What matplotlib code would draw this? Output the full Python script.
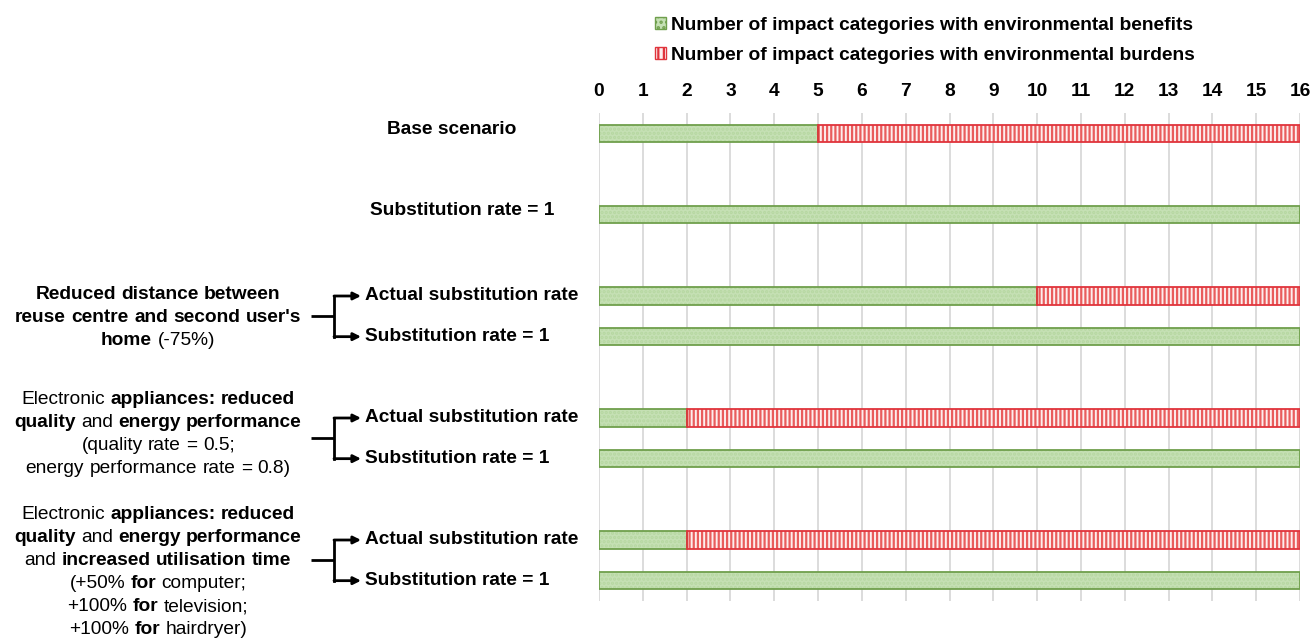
import numpy as np
import matplotlib.pyplot as plt
import matplotlib.transforms as mtransforms
from matplotlib.patches import Patch

plt.rcParams['font.family'] = ['Liberation Sans', 'DejaVu Sans']
plt.rcParams['hatch.linewidth'] = 1.6

# data
row_pos = [0, 2, 4, 5, 7, 8, 10, 11]
row_labels = ['Base scenario', 'Substitution rate = 1',
              'Actual substitution rate', 'Substitution rate = 1',
              'Actual substitution rate', 'Substitution rate = 1',
              'Actual substitution rate', 'Substitution rate = 1']
benefits = [5, 16, 10, 16, 2, 16, 2, 16]
burdens = [11, 0, 6, 0, 14, 0, 14, 0]
legend_labels = ['Number of impact categories with environmental benefits',
                 'Number of impact categories with environmental burdens']

# group labels: list of lines, each line a list of (word, bold)
groups = [
    dict(rows=(4, 5), cy=4.54, lines=[
        [('Reduced', 1), ('distance', 1), ('between', 1)],
        [('reuse', 1), ('centre', 1), ('and', 1), ('second', 1), ("user's", 1)],
        [('home', 1), ('(-75%)', 0)],
    ]),
    dict(rows=(7, 8), cy=7.39, lines=[
        [('Electronic', 0), ('appliances:', 1), ('reduced', 1)],
        [('quality', 1), ('and', 0), ('energy', 1), ('performance', 1)],
        [('(quality', 0), ('rate', 0), ('=', 0), ('0.5;', 0)],
        [('energy', 0), ('performance', 0), ('rate', 0), ('=', 0), ('0.8)', 0)],
    ]),
    dict(rows=(10, 11), cy=10.79, lines=[
        [('Electronic', 0), ('appliances:', 1), ('reduced', 1)],
        [('quality', 1), ('and', 0), ('energy', 1), ('performance', 1)],
        [('and', 0), ('increased', 1), ('utilisation', 1), ('time', 1)],
        [('(+50%', 0), ('for', 1), ('computer;', 0)],
        [('+100%', 0), ('for', 1), ('television;', 0)],
        [('+100%', 0), ('for', 1), ('hairdryer)', 0)],
    ]),
]

FS = 13.8
green_face = '#c5e0b4'
green_edge = '#6f9f4c'
red_face = '#fdeeee'
red_hatch = '#e95c5c'
red_edge = '#e0343c'

fig = plt.figure(figsize=(13.12, 6.38), dpi=100)
ax = fig.add_axes([599 / 1312, 1 - 601 / 638, 701 / 1312, 488 / 638])

h = 0.42
ax.barh(row_pos, benefits, height=h, color=green_face, edgecolor='#b6d7a1',
        hatch='....', linewidth=0, zorder=2)
ax.barh(row_pos, benefits, height=h, color='none', edgecolor=green_edge,
        linewidth=1.3, zorder=3)
ax.barh(row_pos, burdens, left=benefits, height=h, color=red_face,
        edgecolor=red_hatch, hatch='||||', linewidth=0, zorder=2)
for y, b, r in zip(row_pos, benefits, burdens):
    if r > 0:
        ax.barh(y, r, left=b, height=h, color='none', edgecolor=red_edge,
                linewidth=1.3, zorder=3)

ax.set_xlim(0, 16)
ax.set_ylim(11.5, -0.5)
ax.set_xticks(np.arange(0, 17))
ax.set_yticks([])
ax.xaxis.tick_top()
ax.tick_params(axis='x', length=0, pad=9, labelsize=FS)
for t in ax.get_xticklabels():
    t.set_fontweight('bold')
ax.grid(axis='x', color='#d9d9d9', linewidth=1.3, zorder=0)
ax.set_axisbelow(True)
for s in ax.spines.values():
    s.set_visible(False)

# legend
handles = [Patch(facecolor=green_face, edgecolor=green_edge, linewidth=1.0,
                 hatch='...'),
           Patch(facecolor=red_face, edgecolor=red_edge, linewidth=1.0,
                 hatch='|||')]
fig.legend(handles, legend_labels, loc='upper left',
           bbox_to_anchor=(655 / 1312, 1 - 17 / 638), frameon=False,
           prop={'weight': 'bold', 'size': FS}, handlelength=0.55,
           handleheight=0.55, handletextpad=0.3, labelspacing=0.68,
           borderpad=0, borderaxespad=0)

# x in figure pixels, y in data
trans = mtransforms.blended_transform_factory(mtransforms.IdentityTransform(),
                                              ax.transData)

# row labels
ax.text(452, -0.1, row_labels[0], transform=trans, ha='center', va='center',
        fontsize=FS, fontweight='bold')
ax.text(462, 1.9, row_labels[1], transform=trans, ha='center', va='center',
        fontsize=FS, fontweight='bold')
for y, lab in zip(row_pos[2:], row_labels[2:]):
    ax.text(365, y, lab, transform=trans, ha='left', va='center',
            fontsize=FS, fontweight='bold')

# group texts with mixed weights
fig.canvas.draw()
renderer = fig.canvas.get_renderer()
probe = ax.text(0, 0, 'x x', fontsize=FS, fontweight='bold')
w1 = probe.get_window_extent(renderer).width
probe.set_text('xx')
space_w = w1 - probe.get_window_extent(renderer).width
probe.remove()

line_step = 23 / 40.67
cx = 158
for g in groups:
    n = len(g['lines'])
    for i, words in enumerate(g['lines']):
        y = g['cy'] + (i - (n - 1) / 2) * line_step
        objs = []
        widths = []
        for w, b in words:
            t = ax.text(0, y, w, transform=trans, ha='left', va='center',
                        fontsize=FS, fontweight='bold' if b else 'normal')
            objs.append(t)
            widths.append(t.get_window_extent(renderer).width)
        total = sum(widths) + space_w * (len(words) - 1)
        x = cx - total / 2
        for t, wd in zip(objs, widths):
            t.set_x(x)
            x += wd + space_w

    # bracket with arrows
    y1, y2 = g['rows']
    ym = (y1 + y2) / 2
    ax.plot([311, 334], [ym, ym], color='black', lw=2.0, transform=trans,
            clip_on=False, solid_capstyle='butt')
    ax.plot([334, 334], [y1, y2], color='black', lw=2.0, transform=trans,
            clip_on=False, solid_capstyle='projecting')
    for yy in (y1, y2):
        ax.annotate('', xy=(361, yy), xytext=(334, yy), xycoords=trans,
                    textcoords=trans,
                    arrowprops=dict(arrowstyle='-|>', color='black', lw=2.0,
                                    shrinkA=0, shrinkB=0, mutation_scale=11))

fig.savefig('out.png', dpi=100)
